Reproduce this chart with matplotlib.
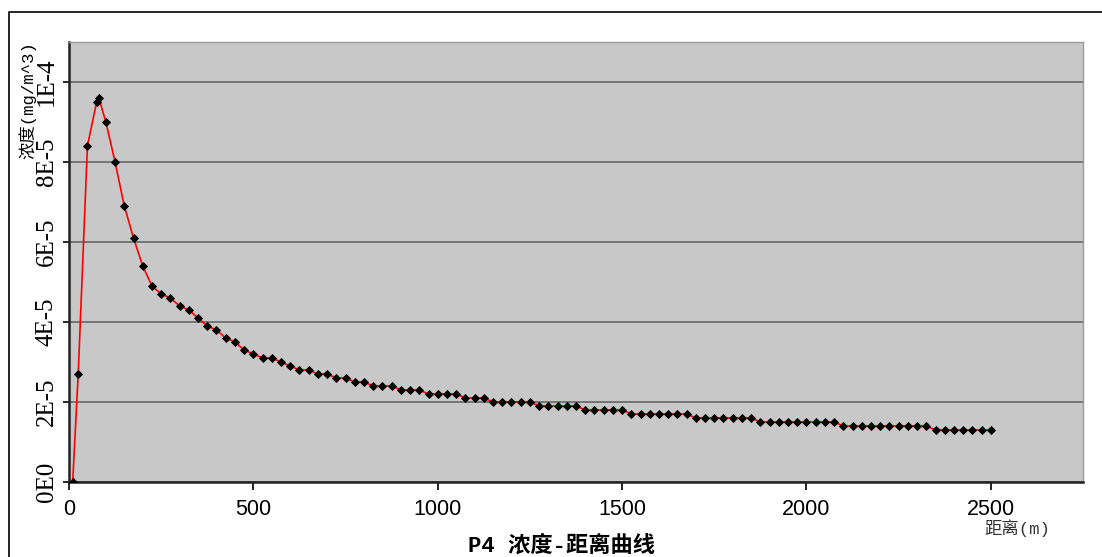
#!/usr/bin/python

import numpy as np
import matplotlib
matplotlib.use("Agg")
import matplotlib.pyplot as plt

# Distance (m) of each receptor point, max point at 81 m
distance = [
    10, 25, 50, 75, 81, 100, 125, 150, 175, 200,
    225, 250, 275, 300, 325, 350, 375, 400, 425, 450,
    475, 500, 525, 550, 575, 600, 625, 650, 675, 700,
    725, 750, 775, 800, 825, 850, 875, 900, 925, 950,
    975, 1000, 1025, 1050, 1075, 1100, 1125, 1150, 1175, 1200,
    1225, 1250, 1275, 1300, 1325, 1350, 1375, 1400, 1425, 1450,
    1475, 1500, 1525, 1550, 1575, 1600, 1625, 1650, 1675, 1700,
    1725, 1750, 1775, 1800, 1825, 1850, 1875, 1900, 1925, 1950,
    1975, 2000, 2025, 2050, 2075, 2100, 2125, 2150, 2175, 2200,
    2225, 2250, 2275, 2300, 2325, 2350, 2375, 2400, 2425, 2450,
    2475, 2500,
]

# Concentration in units of 1E-5 mg/m^3
conc_e5 = [
    0.0, 2.7, 8.4, 9.5, 9.6, 9.0, 8.0, 6.9, 6.1, 5.4,
    4.9, 4.7, 4.6, 4.4, 4.3, 4.1, 3.9, 3.8, 3.6, 3.5,
    3.3, 3.2, 3.1, 3.1, 3.0, 2.9, 2.8, 2.8, 2.7, 2.7,
    2.6, 2.6, 2.5, 2.5, 2.4, 2.4, 2.4, 2.3, 2.3, 2.3,
    2.2, 2.2, 2.2, 2.2, 2.1, 2.1, 2.1, 2.0, 2.0, 2.0,
    2.0, 2.0, 1.9, 1.9, 1.9, 1.9, 1.9, 1.8, 1.8, 1.8,
    1.8, 1.8, 1.7, 1.7, 1.7, 1.7, 1.7, 1.7, 1.7, 1.6,
    1.6, 1.6, 1.6, 1.6, 1.6, 1.6, 1.5, 1.5, 1.5, 1.5,
    1.5, 1.5, 1.5, 1.5, 1.5, 1.4, 1.4, 1.4, 1.4, 1.4,
    1.4, 1.4, 1.4, 1.4, 1.4, 1.3, 1.3, 1.3, 1.3, 1.3,
    1.3, 1.3,
]

x_ticks = [0, 500, 1000, 1500, 2000, 2500]
y_ticks = [0, 2e-5, 4e-5, 6e-5, 8e-5, 1e-4]
y_tick_labels = ["0E0", "2E-5", "4E-5", "6E-5", "8E-5", "1E-4"]

conc = np.array(conc_e5) * 1e-5

# mono latin + CJK fallback, close to the SimSun look of the original
song = ["Liberation Mono", "Noto Sans CJK SC", "DejaVu Sans"]

fig = plt.figure(figsize=(11.02, 5.57), dpi=100)
ax = fig.add_axes([69 / 1102, 75 / 557, 1014 / 1102, 440 / 557])
ax.set_facecolor("#c8c8c8")

# Curve: red line with black diamonds
ax.plot(distance, conc, color="red", linewidth=1.2, zorder=3)
ax.plot(distance, conc, linestyle="none", marker="D", markersize=4.2,
        color="black", markeredgewidth=0.6, zorder=4)

ax.set_xlim(0, 2750)
ax.set_ylim(0, 1.1e-4)

ax.set_xticks(x_ticks)
ax.set_xticklabels([str(t) for t in x_ticks], family="Liberation Sans", fontsize=15.5)
ax.set_yticks(y_ticks)
ax.set_yticklabels(y_tick_labels, family="Liberation Serif", fontsize=18,
                   rotation=90, va="center")

ax.tick_params(axis="x", direction="out", length=6, width=1.2, pad=6)
ax.tick_params(axis="y", direction="out", length=4, width=1.2, pad=4)

ax.grid(axis="y", color="#6e6e6e", linewidth=1.3)
ax.set_axisbelow(True)

for side in ["left", "bottom"]:
    ax.spines[side].set_color("#222222")
    ax.spines[side].set_linewidth(1.8)
for side in ["top", "right"]:
    ax.spines[side].set_color("#9a9a9a")
    ax.spines[side].set_linewidth(1.0)

# Labels
fig.text(27 / 1102, 1 - 100 / 557, "浓度(mg/m^3)", rotation=90,
         ha="center", va="center", fontsize=12.5, family=song)
fig.text(1017 / 1102, 1 - 528 / 557, "距离(m)", ha="center", va="center",
         fontsize=12.5, family=song, color="#333333")
fig.text(562 / 1102, 1 - 546 / 557, "P4 浓度-距离曲线", ha="center", va="center",
         fontsize=16, family=song, fontweight="bold")

# Outer frame (top and left edges visible)
fig.add_artist(plt.Line2D([9 / 1102, 9 / 1102, 1], [0, 1 - 12 / 557, 1 - 12 / 557],
                          transform=fig.transFigure, color="black", linewidth=1.2))

fig.savefig("out.png", dpi=100)
